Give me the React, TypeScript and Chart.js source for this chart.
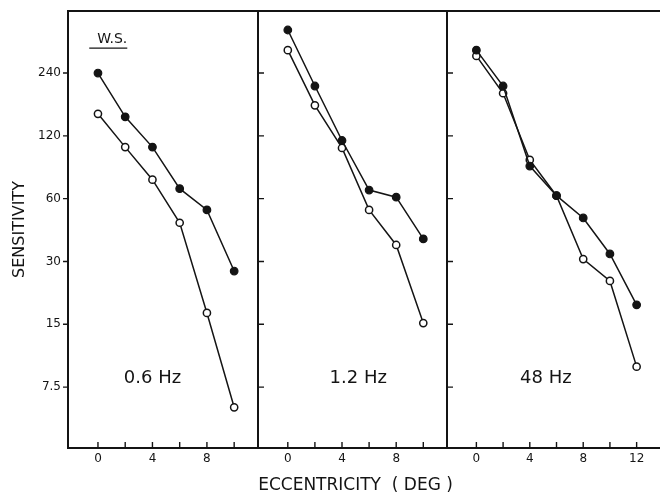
import { useEffect, useRef } from "react";
import { Chart, registerables } from "chart.js";

Chart.register(...registerables);

// ---- data ----
const yTickValues = [7.5, 15, 30, 60, 120, 240];
const panelLabels = ["0.6 Hz", "1.2 Hz", "48 Hz"];
const subjectLabel = "W.S.";
const yTitle = "SENSITIVITY";
const xTitle = "ECCENTRICITY  ( DEG )";

const ecc06 = [0, 2, 4, 6, 8, 10];
const filled06 = [240, 148, 106, 67, 53, 27];
const open06 = [153, 106, 74, 46, 17, 6];

const ecc12 = [0, 2, 4, 6, 8, 10];
const filled12 = [386, 208, 114, 66, 61, 38.5];
const open12 = [309, 168, 105, 53, 36, 15.2];

const ecc48 = [0, 2, 4, 6, 8, 10, 12];
const filled48 = [309, 208, 86, 62, 48.5, 32.6, 18.6];
const open48 = [290, 192, 92, 62, 30.8, 24.2, 9.4];

const xTicks12 = [0, 2, 4, 6, 8, 10];
const xTicks48 = [0, 2, 4, 6, 8, 10, 12];

const INK = "#141414";
const FONT = '"DejaVu Sans", "Liberation Sans", sans-serif';

type PanelCfg = {
  ecc: number[];
  filled: number[];
  open: number[];
  xTicks: number[];
  xMin: number;
  xMax: number;
  padLeft: number;
  padRight: number;
  showY: boolean;
  sides: string[];
  label: string;
  labelAt: [number, number];
  subject?: boolean;
  title?: boolean;
};

const panels: PanelCfg[] = [
  {
    ecc: ecc06, filled: filled06, open: open06, xTicks: xTicks12,
    xMin: -2.2, xMax: 11.75, padLeft: 0, padRight: 402, showY: true,
    sides: ["left", "top", "right", "bottom"], label: panelLabels[0], labelAt: [4, 8.3], subject: true,
  },
  {
    ecc: ecc12, filled: filled12, open: open12, xTicks: xTicks12,
    xMin: -2.2, xMax: 11.75, padLeft: 258, padRight: 213, showY: false,
    sides: ["left", "top", "right", "bottom"], label: panelLabels[1], labelAt: [5.2, 8.3], title: true,
  },
  {
    ecc: ecc48, filled: filled48, open: open48, xTicks: xTicks48,
    xMin: -2.2, xMax: 13.75, padLeft: 447, padRight: 0, showY: false,
    sides: ["left", "top", "bottom"], label: panelLabels[2], labelAt: [5.2, 8.3],
  },
];

const framePlugin = {
  id: "frame",
  afterDraw(chart: any, _args: any, opts: any) {
    const { ctx } = chart;
    const { left, right, top, bottom } = chart.chartArea;
    const xs = chart.scales.x;
    const ys = chart.scales.y;
    const cfg: PanelCfg = opts.cfg;
    ctx.save();
    ctx.strokeStyle = INK;
    ctx.fillStyle = INK;
    ctx.lineWidth = 2;
    ctx.lineCap = "square";
    ctx.beginPath();
    if (cfg.sides.includes("left")) { ctx.moveTo(left, top); ctx.lineTo(left, bottom); }
    if (cfg.sides.includes("top")) { ctx.moveTo(left, top); ctx.lineTo(right, top); }
    if (cfg.sides.includes("right")) { ctx.moveTo(right, top); ctx.lineTo(right, bottom); }
    if (cfg.sides.includes("bottom")) { ctx.moveTo(left, bottom); ctx.lineTo(right, bottom); }
    ctx.stroke();

    ctx.lineWidth = 1.4;
    ctx.lineCap = "butt";
    ctx.beginPath();
    for (const v of cfg.xTicks) {
      const px = xs.getPixelForValue(v);
      ctx.moveTo(px, bottom);
      ctx.lineTo(px, bottom - 6);
    }
    for (const v of yTickValues) {
      const py = ys.getPixelForValue(v);
      if (cfg.showY) { ctx.moveTo(left - 5, py); ctx.lineTo(left, py); }
      else { ctx.moveTo(left, py); ctx.lineTo(left + 6, py); }
    }
    ctx.stroke();

    ctx.textAlign = "center";
    ctx.textBaseline = "middle";
    ctx.font = `18px ${FONT}`;
    ctx.fillText(cfg.label, xs.getPixelForValue(cfg.labelAt[0]), ys.getPixelForValue(cfg.labelAt[1]));

    if (cfg.subject) {
      ctx.font = `14px ${FONT}`;
      const sx = xs.getPixelForValue(1.05);
      const sy = ys.getPixelForValue(349);
      ctx.fillText(subjectLabel, sx, sy);
      const w = ctx.measureText(subjectLabel).width;
      ctx.lineWidth = 1.4;
      ctx.beginPath();
      ctx.moveTo(sx - w / 2 - 8, sy + 9);
      ctx.lineTo(sx + w / 2, sy + 9);
      ctx.stroke();
    }
    if (cfg.title) {
      ctx.font = `17px ${FONT}`;
      ctx.fillText(xTitle, (left + right) / 2 + 3, 486);
    }
    ctx.restore();
  },
};

function Panel({ cfg }: { cfg: PanelCfg }) {
  const ref = useRef<HTMLCanvasElement | null>(null);
  useEffect(() => {
    if (!ref.current) return;
    const chart = new Chart(ref.current, {
      type: "line",
      data: {
        datasets: [
          {
            data: cfg.ecc.map((x, i) => ({ x, y: cfg.filled[i] })),
            borderColor: INK,
            borderWidth: 1.5,
            pointRadius: 3.8,
            pointBackgroundColor: INK,
            pointBorderColor: INK,
            pointBorderWidth: 1.2,
          },
          {
            data: cfg.ecc.map((x, i) => ({ x, y: cfg.open[i] })),
            borderColor: INK,
            borderWidth: 1.5,
            pointRadius: 3.6,
            pointBackgroundColor: "#ffffff",
            pointBorderColor: INK,
            pointBorderWidth: 1.5,
          },
        ],
      },
      options: {
        responsive: false,
        animation: false,
        events: [],
        layout: { autoPadding: false, padding: { left: cfg.padLeft, right: cfg.padRight, top: 11, bottom: 0 } },
        plugins: {
          legend: { display: false },
          tooltip: { enabled: false },
          frame: { cfg },
        } as any,
        scales: {
          x: {
            type: "linear",
            min: cfg.xMin,
            max: cfg.xMax,
            afterBuildTicks: (s: any) => { s.ticks = cfg.xTicks.map((v) => ({ value: v })); },
            afterFit: (s: any) => {
              s.height = 49;
              s.paddingLeft = 0; s.paddingRight = 0; s.paddingTop = 0; s.paddingBottom = 0;
            },
            grid: { display: false, drawTicks: false },
            border: { display: false },
            ticks: {
              padding: 4,
              color: INK,
              font: { family: FONT, size: 12 },
              autoSkip: false,
              maxRotation: 0,
              callback: (v: any) => (Number(v) % 4 === 0 ? String(v) : ""),
            },
          },
          y: {
            type: "logarithmic",
            display: cfg.showY,
            min: 3.83,
            max: 476,
            afterBuildTicks: (s: any) => { s.ticks = yTickValues.map((v) => ({ value: v })); },
            afterFit: (s: any) => {
              s.width = cfg.showY ? 68 : 0;
              s.paddingLeft = 0; s.paddingRight = 0; s.paddingTop = 0; s.paddingBottom = 0;
            },
            grid: { display: false, drawTicks: false },
            border: { display: false },
            ticks: {
              padding: 7,
              color: INK,
              font: { family: FONT, size: 12 },
              autoSkip: false,
              callback: (v: any) => String(v),
            },
            title: {
              display: true,
              text: yTitle,
              color: INK,
              font: { family: FONT, size: 16 },
              padding: { top: 10, bottom: 0 },
            },
          },
        },
      },
      plugins: [framePlugin],
    } as any);
    return () => chart.destroy();
  }, [cfg]);
  return (
    <canvas
      ref={ref}
      width={660}
      height={497}
      style={{ position: "absolute", left: 0, top: 0, width: 660, height: 497 }}
    />
  );
}

export default function App() {
  return (
    <div style={{ position: "absolute", left: 0, top: 0, width: 660, height: 497, background: "#fff", overflow: "hidden" }}>
      {panels.map((p, i) => (
        <Panel key={i} cfg={p} />
      ))}
    </div>
  );
}
